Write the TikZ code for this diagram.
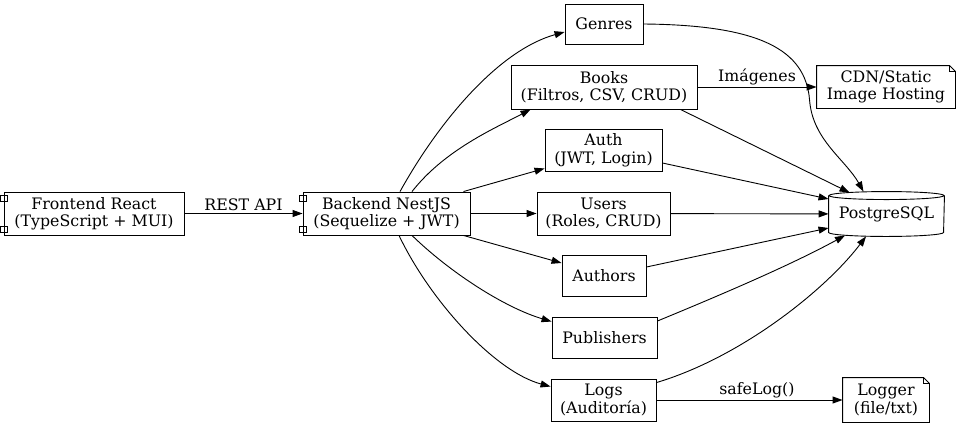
\documentclass[tikz,border=0pt]{standalone}
\usepackage{fontspec}
\setmainfont{DejaVu Serif}
\usetikzlibrary{arrows.meta,calc}

\begin{document}
\begin{tikzpicture}[x=1pt,y=1pt,
  font=\fontsize{15.8}{17.5}\selectfont,
  line width=0.9pt,
  >={Triangle[length=10pt,width=7pt]},
  box/.style={draw,rectangle,align=center,inner sep=1pt},
  comp/.style={box,append after command={\pgfextra{
      \draw[fill=white] ($(\tikzlastnode.north west)+(-3.5,-4)$) rectangle ++(7,-6);
      \draw[fill=white] ($(\tikzlastnode.south west)+(-3.5,3)$) rectangle ++(7,6);}}},
  note/.style={align=center,inner sep=1pt,append after command={\pgfextra{
      \draw ($(\tikzlastnode.north east)+(-6,0)$) -- (\tikzlastnode.north west)
        -- (\tikzlastnode.south west) -- (\tikzlastnode.south east)
        -- ($(\tikzlastnode.north east)+(0,-6)$) -- cycle;
      \draw ($(\tikzlastnode.north east)+(-6,0)$) -- ++(0,-6) -- ++(6,0);}}},
  db/.style={align=center,inner sep=1pt,append after command={\pgfextra{
      \draw ($(\tikzlastnode.north)+(0,-4)$) ellipse [x radius=57.5,y radius=4];
      \draw ($(\tikzlastnode.north west)+(0,-4)$) -- ($(\tikzlastnode.south west)+(0,4)$)
        arc [start angle=180,end angle=360,x radius=57.5,y radius=4]
        -- ($(\tikzlastnode.north east)+(0,-4)$);}}},
  lbl/.style={above=2pt,inner sep=0pt}]
	\useasboundingbox (0,0) rectangle (960,-426);

	\node[comp,minimum width=180pt,minimum height=43pt] (front) at (94,-213.5) {Frontend React\\(TypeScript + MUI)};
	\node[comp,minimum width=167pt,minimum height=43pt] (back) at (386.5,-213.5) {Backend NestJS\\(Sequelize + JWT)};
	\node[box,minimum width=78pt,minimum height=40pt] (genres) at (604,-24) {Genres};
	\node[box,minimum width=186pt,minimum height=44pt] (books) at (604,-87) {Books\\(Filtros, CSV, CRUD)};
	\node[box,minimum width=117pt,minimum height=42pt] (auth) at (603.5,-150) {Auth\\(JWT, Login)};
	\node[box,minimum width=133pt,minimum height=43pt] (users) at (603.5,-213.5) {Users\\(Roles, CRUD)};
	\node[box,minimum width=84pt,minimum height=41pt] (authors) at (604,-275.5) {Authors};
	\node[box,minimum width=105pt,minimum height=41pt] (publishers) at (604.5,-337.5) {Publishers};
	\node[box,minimum width=105pt,minimum height=42pt] (logs) at (603.5,-400) {Logs\\(Auditoría)};
	\node[note,minimum width=138pt,minimum height=42pt] (cdn) at (886,-87) {CDN/Static\\Image Hosting};
	\node[db,minimum width=115pt,minimum height=44pt] (pg) at (886.5,-214) {PostgreSQL};
	\node[note,minimum width=86pt,minimum height=44pt] (logger) at (886,-400) {Logger\\(file/txt)};
	\coordinate (bend) at ($(cdn.west)+(-7,-13)$);

	\draw[->] (front) -- node[lbl] {REST API} (back);

	\draw[->] ($(back.north)+(13.5,0)$) .. controls +(40,72) and +(-65,-18) .. ($(genres.west)+(0,-8)$);
	\draw[->] ($(back.north)+(25.5,0)$) .. controls +(33,42) and +(-36,-19) .. ($(books.south west)+(20,0)$);
	\draw[->] ($(back.north east)+(-7,0)$) -- ($(auth.south west)+(0,3)$);
	\draw[->] (back) -- (users);
	\draw[->] ($(back.south east)+(-7,0)$) -- ($(authors.west)+(0,12.5)$);
	\draw[->] ($(back.south)+(25.5,0)$) .. controls +(38,-37) and +(-47,14) .. ($(publishers.north west)+(0,-5)$);
	\draw[->] ($(back.south)+(12.5,0)$) .. controls +(31,-65) and +(-56,15) .. ($(logs.north west)+(0,-8)$);

	\draw[->] (genres.east) .. controls +(117,-1) and +(-4,50) .. (bend)
		.. controls +(3,-40) and +(-18,32) .. ($(pg.north)+(-23,0)$);
	\draw[->] (books) -- node[lbl] {Imágenes} (cdn);
	\draw[->] ($(books.south east)+(-17,0)$) -- ($(pg.north west)+(21,-1)$);
	\draw[->] ($(auth.east)+(0,-13)$) -- ($(pg.west)+(0,15)$);
	\draw[->] (users) -- (pg);
	\draw[->] ($(authors.east)+(0,8.5)$) -- ($(pg.west)+(0,-14)$);
	\draw[->] ($(publishers.east)+(0,16.5)$) .. controls +(63,26) and +(-55,-30) .. ($(pg.south)+(-41.5,1)$);
	\draw[->] ($(logs.north east)+(0,-4)$) .. controls +(84,25) and +(-41,-54) .. ($(pg.south)+(-20.5,0)$);
	\draw[->] (logs) -- node[lbl,pos=0.54] {safeLog()} (logger);
\end{tikzpicture}
\end{document}
